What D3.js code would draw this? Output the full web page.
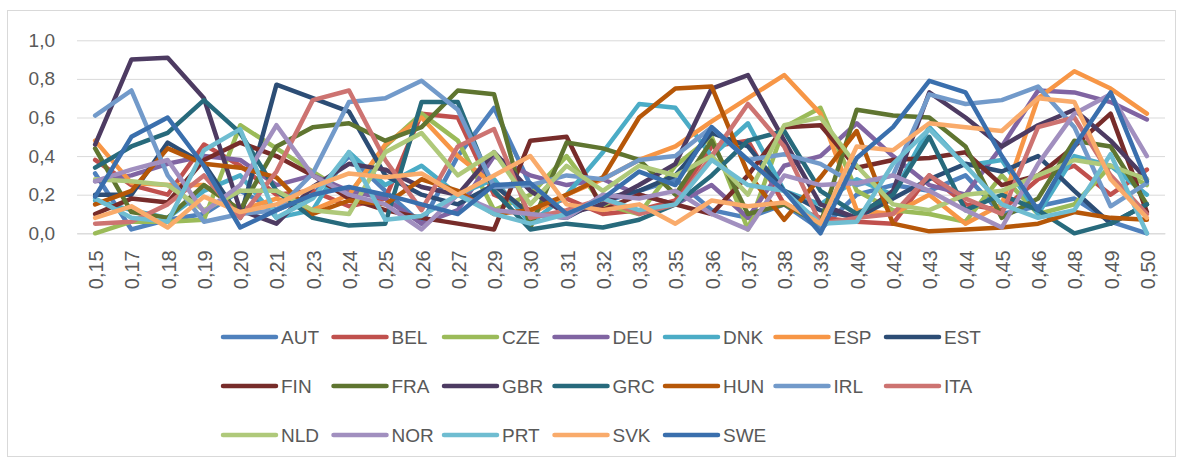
<!DOCTYPE html>
<html>
<head>
<meta charset="utf-8">
<script src="https://cdn.jsdelivr.net/npm/d3@7"></script>
<style>
	body { margin: 0; background: #fff; }
	svg { font-family: "Liberation Sans", Arial, sans-serif; }
</style>
</head>
<body>
<svg width="1183" height="465"></svg>
<script>
const categories = ["0,15","0,17","0,18","0,19","0,20","0,21","0,23","0,24","0,25","0,26","0,27","0,29","0,30","0,31","0,32","0,33","0,35","0,36","0,37","0,38","0,39","0,40","0,42","0,43","0,44","0,45","0,46","0,48","0,49","0,50"];
const yTicks = [0, 0.2, 0.4, 0.6, 0.8, 1.0];

const AUT = [0.31,0.02,0.07,0.10,0.22,0.12,0.20,0.40,0.22,0.05,0.40,0.65,0.25,0.10,0.16,0.22,0.28,0.12,0.08,0.15,0.02,0.20,0.25,0.22,0.30,0.10,0.14,0.18,0.06,0.00];
const BEL = [0.38,0.25,0.20,0.46,0.35,0.20,0.22,0.14,0.18,0.62,0.60,0.20,0.12,0.18,0.10,0.12,0.17,0.45,0.48,0.15,0.08,0.06,0.05,0.30,0.15,0.12,0.28,0.35,0.20,0.33];
const CZE = [0.00,0.06,0.06,0.07,0.56,0.44,0.32,0.20,0.45,0.62,0.48,0.12,0.20,0.40,0.15,0.10,0.35,0.50,0.02,0.55,0.65,0.22,0.12,0.10,0.06,0.30,0.10,0.15,0.35,0.25];
const DEU = [0.27,0.30,0.36,0.40,0.38,0.25,0.30,0.22,0.18,0.05,0.12,0.40,0.30,0.25,0.28,0.20,0.15,0.25,0.08,0.35,0.40,0.57,0.40,0.25,0.20,0.45,0.74,0.73,0.68,0.59];
const DNK = [0.17,0.12,0.08,0.22,0.30,0.08,0.12,0.42,0.25,0.35,0.20,0.28,0.05,0.20,0.42,0.67,0.65,0.40,0.57,0.22,0.15,0.28,0.20,0.55,0.35,0.38,0.10,0.40,0.35,0.20];
const ESP = [0.48,0.26,0.25,0.25,0.12,0.18,0.12,0.20,0.46,0.60,0.40,0.25,0.10,0.20,0.28,0.38,0.45,0.58,0.70,0.82,0.62,0.12,0.10,0.20,0.05,0.15,0.70,0.84,0.75,0.62];
const EST = [0.20,0.20,0.47,0.36,0.08,0.77,0.70,0.63,0.30,0.20,0.15,0.25,0.10,0.08,0.18,0.22,0.30,0.52,0.45,0.22,0.12,0.08,0.18,0.28,0.36,0.32,0.40,0.22,0.05,0.15];
const FIN = [0.10,0.18,0.16,0.38,0.47,0.40,0.30,0.18,0.12,0.08,0.05,0.02,0.48,0.50,0.12,0.20,0.15,0.10,0.30,0.55,0.56,0.34,0.38,0.39,0.42,0.25,0.30,0.45,0.62,0.11];
const FRA = [0.44,0.11,0.08,0.25,0.12,0.45,0.55,0.57,0.48,0.55,0.74,0.72,0.03,0.47,0.44,0.38,0.20,0.48,0.10,0.15,0.05,0.64,0.61,0.60,0.45,0.08,0.18,0.48,0.45,0.15];
const GBR = [0.46,0.90,0.91,0.70,0.12,0.05,0.24,0.36,0.33,0.24,0.20,0.42,0.22,0.10,0.15,0.25,0.36,0.75,0.82,0.48,0.15,0.08,0.22,0.73,0.60,0.45,0.56,0.64,0.48,0.28];
const GRC = [0.34,0.45,0.52,0.69,0.52,0.22,0.08,0.04,0.05,0.68,0.68,0.22,0.02,0.05,0.03,0.07,0.15,0.30,0.48,0.53,0.22,0.10,0.20,0.50,0.12,0.20,0.12,0.00,0.05,0.15];
const HUN = [0.15,0.22,0.44,0.36,0.34,0.29,0.10,0.17,0.15,0.28,0.22,0.10,0.12,0.20,0.29,0.60,0.75,0.76,0.31,0.07,0.29,0.53,0.05,0.01,0.02,0.03,0.05,0.11,0.08,0.07];
const IRL = [0.61,0.74,0.30,0.06,0.10,0.12,0.31,0.68,0.70,0.79,0.64,0.24,0.25,0.30,0.28,0.38,0.40,0.55,0.38,0.41,0.36,0.25,0.30,0.72,0.67,0.69,0.76,0.55,0.14,0.26];
const ITA = [0.05,0.06,0.15,0.30,0.08,0.32,0.69,0.74,0.38,0.12,0.45,0.54,0.08,0.12,0.18,0.10,0.15,0.40,0.67,0.45,0.05,0.08,0.10,0.30,0.18,0.10,0.55,0.60,0.30,0.10];
const NLD = [0.28,0.27,0.25,0.12,0.22,0.22,0.12,0.10,0.42,0.52,0.30,0.42,0.15,0.35,0.22,0.35,0.30,0.40,0.20,0.56,0.60,0.35,0.15,0.12,0.20,0.22,0.30,0.38,0.35,0.28];
const NOR = [0.27,0.33,0.38,0.11,0.25,0.56,0.30,0.20,0.15,0.02,0.20,0.12,0.10,0.08,0.20,0.18,0.22,0.10,0.02,0.30,0.25,0.26,0.30,0.22,0.12,0.03,0.36,0.62,0.72,0.40];
const PRT = [0.18,0.08,0.06,0.43,0.54,0.08,0.18,0.42,0.07,0.09,0.20,0.10,0.05,0.10,0.18,0.12,0.15,0.38,0.25,0.22,0.05,0.06,0.36,0.54,0.35,0.15,0.08,0.12,0.41,0.00];
const SVK = [0.08,0.14,0.03,0.19,0.11,0.15,0.24,0.31,0.29,0.31,0.20,0.30,0.40,0.15,0.12,0.15,0.05,0.17,0.14,0.16,0.05,0.45,0.43,0.57,0.55,0.53,0.70,0.68,0.28,0.08];
const SWE = [0.19,0.50,0.60,0.35,0.03,0.12,0.20,0.24,0.20,0.15,0.10,0.25,0.26,0.10,0.18,0.32,0.25,0.55,0.38,0.22,0.00,0.39,0.55,0.79,0.73,0.40,0.12,0.45,0.73,0.27];

const seriesNames = ["AUT","BEL","CZE","DEU","DNK","ESP","EST","FIN","FRA","GBR","GRC","HUN","IRL","ITA","NLD","NOR","PRT","SVK","SWE"];
const seriesValues = [AUT,BEL,CZE,DEU,DNK,ESP,EST,FIN,FRA,GBR,GRC,HUN,IRL,ITA,NLD,NOR,PRT,SVK,SWE];
const colors = ["#4F81BD","#C0504D","#9BBB59","#8064A2","#4BACC6","#F79646","#2C4D75","#772C2A","#5F7530","#4D3B62","#276A7C","#B65708","#729ACA","#CD7371","#AFC97A","#A18FBF","#6FBDD1","#F9AB6B","#3A6FAD"];

const container = d3.select("svg");

const render = () => {
	const margin = { left: 77, right: 18, top: 41, plotBottom: 233 };
	const innerWidth = 1165 - margin.left;

	// chart frame
	container.append("rect")
		.attr("x", 7.5).attr("y", 10.5)
		.attr("width", 1168).attr("height", 446)
		.attr("fill", "#fff").attr("stroke", "#d9d9d9");

	const xScale = d3.scaleBand().domain(categories).range([margin.left, margin.left + innerWidth]);
	const yScale = d3.scaleLinear().domain([0, 1]).range([233.3, 40.3]);

	// gridlines + y labels
	const yAxis = container.append("g")
		.attr("transform", `translate(${margin.left},0)`)
		.call(d3.axisLeft(yScale).tickValues(yTicks).tickSize(-innerWidth).tickPadding(22)
			.tickFormat((d) => d3.format(".1f")(d).replace(".", ",")));
	yAxis.select(".domain").remove();
	yAxis.selectAll(".tick line").attr("stroke", "#d9d9d9");
	yAxis.selectAll(".tick text").attr("fill", "#595959").style("font-size", "19px");

	// x labels
	const xAxis = container.append("g")
		.attr("transform", `translate(0,233.3)`)
		.call(d3.axisBottom(xScale).tickSize(0).tickPadding(0));
	xAxis.select(".domain").attr("stroke", "#d9d9d9");
	xAxis.selectAll(".tick text")
		.attr("fill", "#595959")
		.style("font-size", "20px")
		.attr("text-anchor", "end")
		.attr("transform", "translate(1,17) rotate(-90)")
		.attr("dy", "0.35em")
		.attr("y", 0);

	const line = d3.line()
		.x((d, i) => xScale(categories[i]) + xScale.bandwidth() / 2)
		.y((d) => yScale(d));

	container.append("g").selectAll("path")
		.data(seriesValues)
		.enter()
		.append("path")
		.attr("d", line)
		.attr("fill", "none")
		.attr("stroke", (d, i) => colors[i])
		.attr("stroke-width", 4.5)
		.attr("stroke-linejoin", "round")
		.attr("stroke-linecap", "round");

	// legend
	const legend = container.append("g");
	const item = legend.selectAll("g")
		.data(seriesNames)
		.enter()
		.append("g")
		.attr("transform", (d, i) => `translate(${223 + (i % 7) * 110.5},${337 + Math.floor(i / 7) * 49})`);
	item.append("line")
		.attr("x1", 0).attr("x2", 53)
		.attr("stroke", (d, i) => colors[i])
		.attr("stroke-width", 4.5)
		.attr("stroke-linecap", "round");
	item.append("text")
		.attr("x", 58)
		.attr("dy", "0.35em")
		.attr("fill", "#595959")
		.style("font-size", "19px")
		.text((d) => d);
};

render();
</script>
</body>
</html>
